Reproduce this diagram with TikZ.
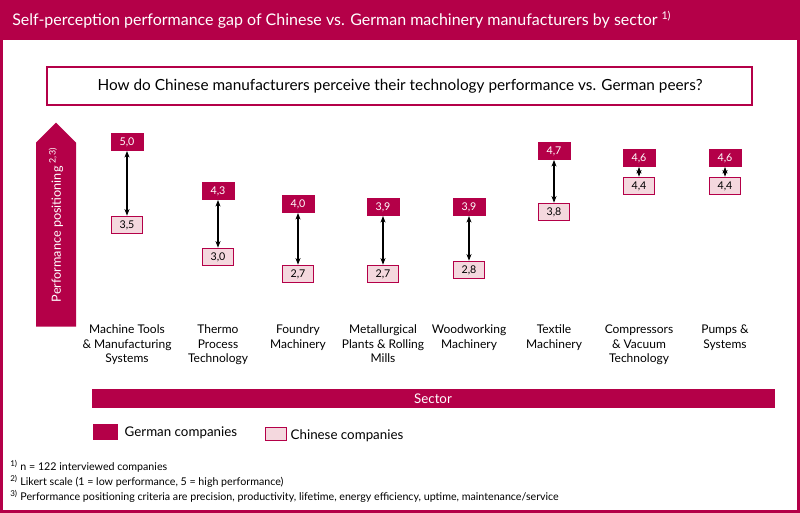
\documentclass[tikz,border=0pt]{standalone}
\usepackage{fontspec}
\setmainfont{Lato}
\usetikzlibrary{arrows.meta,shapes.arrows}
\definecolor{dr}{RGB}{180,0,72}
\definecolor{lp}{RGB}{244,216,222}
\begin{document}
\begin{tikzpicture}[x=0.75pt,y=-0.75pt,
 ger/.style={fill=dr,draw=dr,minimum width=24pt,minimum height=13pt,inner sep=0,text=white,font=\fontsize{8}{9}\selectfont},
 chn/.style={fill=lp,draw=dr,line width=0.9pt,minimum width=23pt,minimum height=13pt,inner sep=0,font=\fontsize{8}{9}\selectfont},
 lab/.style={align=center,font=\fontsize{9}{11}\selectfont,anchor=north},
 gap/.style={{Stealth[length=5pt]}-{Stealth[length=5pt]},line width=0.8pt},
 fn/.style={anchor=west,font=\fontsize{8}{9}\selectfont,inner sep=0}]
\useasboundingbox (0,0) rectangle (800,513);
\fill[dr] (0,0) rectangle (800,513);
\fill[white] (3,40) rectangle (797,510);
\node[anchor=west,text=white,font=\fontsize{12}{14}\selectfont,inner sep=0] (title) at (12,20) {Self-perception performance gap of Chinese vs. German machinery manufacturers by sector \textsuperscript{1)}};
\draw[dr,line width=1.2pt] (47,67) rectangle (752,105);
\node[font=\fontsize{11.5}{13}\selectfont] (q) at (400,86) {How do Chinese manufacturers perceive their technology performance vs. German peers?};
\node[single arrow,fill=dr,rotate=90,minimum height=153pt,minimum width=30pt,single arrow head extend=0pt,inner sep=0,single arrow tip angle=90,anchor=tail] (arr) at (56,327) {};
\node[rotate=90,text=white,font=\fontsize{9.5}{11}\selectfont] (ylab) at (56,225) {Performance positioning \textsuperscript{2,3)}};
\foreach \i/\x/\gy/\gv/\cy/\cv/\t in {
 1/127/142/5{,}0/225/3{,}5/{Machine Tools\\\& Manufacturing\\Systems},
 2/218/191/4{,}3/257/3{,}0/{Thermo\\Process\\Technology},
 3/298/204/4{,}0/274/2{,}7/{Foundry\\Machinery},
 4/383/207/3{,}9/274/2{,}7/{Metallurgical\\Plants \& Rolling\\Mills},
 5/469/207/3{,}9/270/2{,}8/{Woodworking\\Machinery},
 6/554/151/4{,}7/212/3{,}8/{Textile\\Machinery},
 7/639/158/4{,}6/186/4{,}4/{Compressors\\\& Vacuum\\Technology},
 8/725/158/4{,}6/186/4{,}4/{Pumps \&\\Systems}}{
 \node[ger] (g\i) at (\x,\gy) {\gv};
 \node[chn] (c\i) at (\x,\cy) {\cv};
 \draw[gap] (g\i) -- (c\i);
 \node[lab] (l\i) at (\x,320) {\t};
}
\fill[dr] (92,389) rectangle (775,408);
\node[text=white,font=\fontsize{10}{12}\selectfont] (sector) at (433,398.5) {Sector};
\node[ger,minimum width=18pt,minimum height=11pt] (lg) at (105,432) {};
\node[anchor=west,font=\fontsize{10}{12}\selectfont] (lgt) at (120,433) {German companies};
\node[chn,minimum width=16pt,minimum height=10pt] (lc) at (276,434) {};
\node[anchor=west,font=\fontsize{10}{12}\selectfont] (lct) at (286,436) {Chinese companies};
\node[fn] (f1) at (10,466) {\textsuperscript{1)} n = 122 interviewed companies};
\node[fn] (f2) at (10,481) {\textsuperscript{2)} Likert scale (1 = low performance, 5 = high performance)};
\node[fn] (f3) at (10,496) {\textsuperscript{3)} Performance positioning criteria are precision, productivity, lifetime, energy efficiency, uptime, maintenance/service};
\end{tikzpicture}
\end{document}
